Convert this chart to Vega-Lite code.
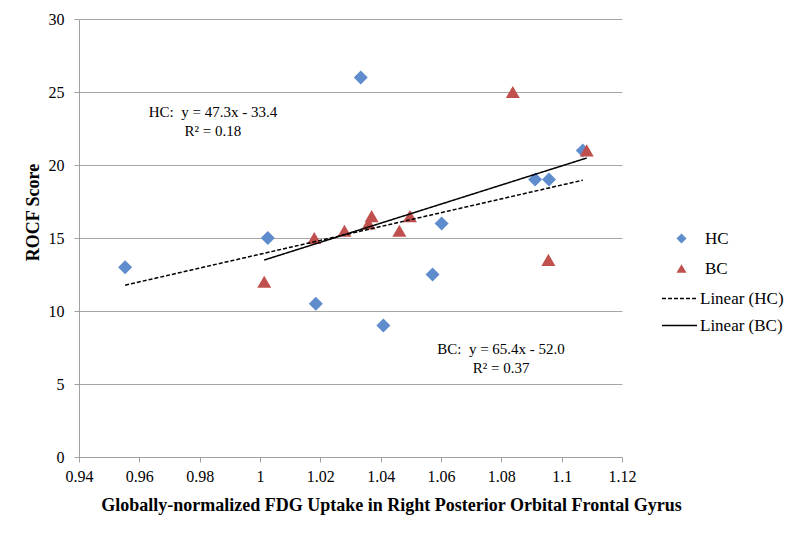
{
  "$schema": "https://vega.github.io/schema/vega-lite/v6.json",
  "width": 543,
  "height": 438,
  "autosize": {"type": "none"},
  "padding": {"left": 79, "top": 19, "right": 178, "bottom": 79},
  "background": "white",
  "config": {
    "font": "Liberation Serif",
    "view": {"stroke": null},
    "axis": {
      "labelFont": "Liberation Serif",
      "labelFontSize": 16,
      "labelColor": "black",
      "titleFont": "Liberation Serif",
      "titleFontSize": 18,
      "titleFontWeight": "bold",
      "titleColor": "black",
      "domainColor": "#a0a0a0",
      "tickColor": "#a0a0a0",
      "gridColor": "#a6a6a6",
      "tickSize": 5
    },
    "legend": {
      "labelFont": "Liberation Serif",
      "labelFontSize": 17,
      "labelColor": "black"
    },
    "text": {"font": "Liberation Serif"}
  },
  "datasets": {
    "points": [
      {"group": "HC", "x": 0.9553, "y": 13.0},
      {"group": "HC", "x": 1.0026, "y": 15.0},
      {"group": "HC", "x": 1.0334, "y": 26.0},
      {"group": "HC", "x": 1.0185, "y": 10.5},
      {"group": "HC", "x": 1.0409, "y": 9.0},
      {"group": "HC", "x": 1.0572, "y": 12.5},
      {"group": "HC", "x": 1.0602, "y": 16.0},
      {"group": "HC", "x": 1.0912, "y": 19.0},
      {"group": "HC", "x": 1.0958, "y": 19.0},
      {"group": "HC", "x": 1.107, "y": 21.0},
      {"group": "BC", "x": 1.0014, "y": 12.0},
      {"group": "BC", "x": 1.018, "y": 15.0},
      {"group": "BC", "x": 1.028, "y": 15.5},
      {"group": "BC", "x": 1.036, "y": 16.0},
      {"group": "BC", "x": 1.037, "y": 16.5},
      {"group": "BC", "x": 1.0462, "y": 15.5},
      {"group": "BC", "x": 1.0497, "y": 16.5},
      {"group": "BC", "x": 1.0838, "y": 25.0},
      {"group": "BC", "x": 1.0956, "y": 13.5},
      {"group": "BC", "x": 1.1083, "y": 21.0}
    ],
    "fits": [
      {"line": "Linear (HC)", "x": 0.9553, "y": 11.77},
      {"line": "Linear (HC)", "x": 1.107, "y": 18.96},
      {"line": "Linear (BC)", "x": 1.0014, "y": 13.49},
      {"line": "Linear (BC)", "x": 1.1083, "y": 20.48}
    ],
    "notes": [
      {"label": "HC:\u00a0 y = 47.3x - 33.4", "x": 0.9844, "y": 23.6},
      {"label": "R² = 0.18", "x": 0.9844, "y": 22.35},
      {"label": "BC:\u00a0 y = 65.4x - 52.0", "x": 1.0799, "y": 7.4},
      {"label": "R² = 0.37", "x": 1.0799, "y": 6.1}
    ]
  },
  "layer": [
    {
      "data": {"name": "points"},
      "mark": {"type": "point", "filled": true, "opacity": 1, "size": 196},
      "encoding": {
        "x": {
          "field": "x", "type": "quantitative",
          "scale": {"domain": [0.94, 1.12], "nice": false, "zero": false},
          "axis": {
            "title": "Globally-normalized FDG Uptake in Right Posterior Orbital Frontal Gyrus",
            "values": [0.94, 0.96, 0.98, 1, 1.02, 1.04, 1.06, 1.08, 1.1, 1.12],
            "format": "~g",
            "grid": false,
            "labelFont": "Liberation Serif",
            "titleFont": "Liberation Serif",
            "labelPadding": 6,
            "labelFlush": false,
            "labelOverlap": false,
            "titleX": 312,
            "titleY": 48,
            "titleAlign": "center",
            "titleAnchor": null,
            "titleBaseline": "middle"
          }
        },
        "y": {
          "field": "y", "type": "quantitative",
          "scale": {"domain": [0, 30], "nice": false},
          "axis": {
            "title": "ROCF Score",
            "values": [0, 5, 10, 15, 20, 25, 30],
            "grid": true,
            "labelFont": "Liberation Serif",
            "titleFont": "Liberation Serif",
            "labelPadding": 10,
            "labelFlush": false,
            "titleX": -46,
            "titleY": 193,
            "titleAngle": 270,
            "titleAlign": "center",
            "titleBaseline": "middle"
          }
        },
        "color": {
          "field": "group", "type": "nominal",
          "scale": {"domain": ["HC", "BC"], "range": ["#5f8ccc", "#c0504d"]},
          "legend": {
            "title": null, "orient": "none", "legendX": 594, "legendY": 211,
            "symbolSize": 100, "labelOffset": 15, "rowPadding": 12,
            "labelFont": "Liberation Serif"
          }
        },
        "shape": {
          "field": "group", "type": "nominal",
          "scale": {"domain": ["HC", "BC"], "range": ["diamond", "triangle-up"]},
          "legend": {
            "title": null, "orient": "none", "legendX": 594, "legendY": 211,
            "symbolSize": 100, "labelOffset": 15, "rowPadding": 12,
            "labelFont": "Liberation Serif"
          }
        }
      }
    },
    {
      "data": {"name": "fits"},
      "mark": {"type": "line", "color": "black", "strokeWidth": 1.5},
      "encoding": {
        "x": {"field": "x", "type": "quantitative"},
        "y": {"field": "y", "type": "quantitative"},
        "strokeDash": {
          "field": "line", "type": "nominal",
          "scale": {"domain": ["Linear (HC)", "Linear (BC)"], "range": [[4, 2], [1, 0]]},
          "legend": {
            "title": null, "orient": "none", "legendX": 582, "legendY": 261,
            "symbolType": "stroke", "symbolSize": 1225, "symbolStrokeColor": "black",
            "symbolStrokeWidth": 1.5, "labelOffset": 2, "rowPadding": -6,
            "labelFont": "Liberation Serif"
          }
        }
      }
    },
    {
      "data": {"name": "notes"},
      "mark": {"type": "text", "fontSize": 15, "align": "center", "baseline": "middle", "color": "black", "font": "Liberation Serif"},
      "encoding": {
        "x": {"field": "x", "type": "quantitative"},
        "y": {"field": "y", "type": "quantitative"},
        "text": {"field": "label"}
      }
    }
  ]
}
